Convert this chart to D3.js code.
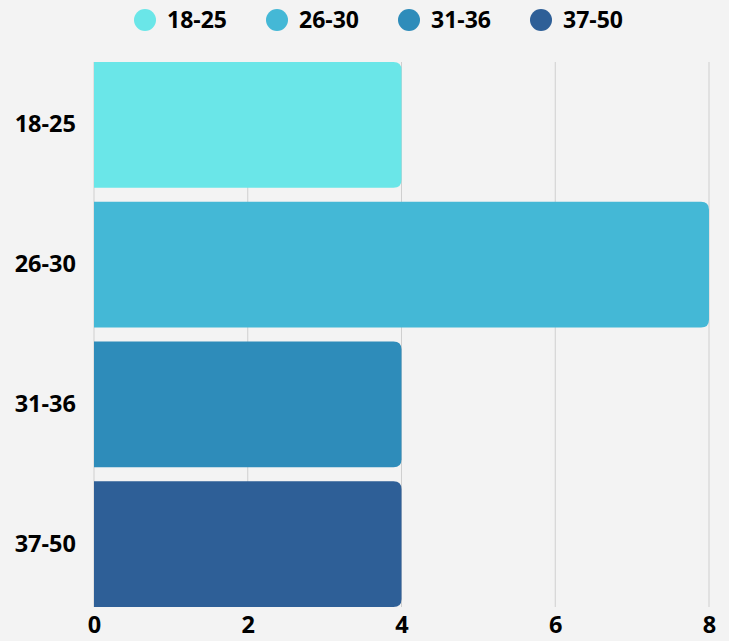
<!DOCTYPE html>
<html lang="en">
<head>
<meta charset="utf-8">
<title>Age groups</title>
<script src="https://cdn.jsdelivr.net/npm/d3@7"></script>
<style>
  body { margin: 0; background: #f3f3f3; font-family: "Open Sans", sans-serif; }
  svg text { font-weight: bold; fill: #000; }
</style>
</head>
<body>
<div id="chart"></div>
<script>
var categories = ["18-25", "26-30", "31-36", "37-50"];
var values = [4, 8, 4, 4];
var colors = ["#6ae6e8", "#44b8d6", "#2e8cba", "#2e5f97"];
var ticks = [0, 2, 4, 6, 8];

var w = 729, h = 641;
var margin = {top: 62, right: 20, bottom: 34, left: 94};

var svg = d3.select("#chart").append("svg")
  .attr("width", w).attr("height", h);

var x = d3.scaleLinear().domain([0, 8]).range([margin.left, 709]);
var y = d3.scaleBand().domain(categories)
  .range([margin.top, h - margin.bottom])
  .paddingInner(0.1).paddingOuter(0);

// gridlines
svg.append("g")
  .selectAll("line")
  .data(ticks)
  .enter().append("line")
  .attr("x1", function(d) { return x(d); })
  .attr("x2", function(d) { return x(d); })
  .attr("y1", margin.top)
  .attr("y2", h - margin.bottom)
  .attr("stroke", "#cfcfcf")
  .attr("stroke-width", 1);

// bars with rounded right end
function barPath(x0, x1, y0, hh, r) {
  return "M" + x0 + "," + y0 +
    "H" + (x1 - r) +
    "Q" + x1 + "," + y0 + " " + x1 + "," + (y0 + r) +
    "V" + (y0 + hh - r) +
    "Q" + x1 + "," + (y0 + hh) + " " + (x1 - r) + "," + (y0 + hh) +
    "H" + x0 + "Z";
}

svg.append("g")
  .selectAll("path")
  .data(categories)
  .enter().append("path")
  .attr("d", function(d, i) {
    return barPath(x(0), x(values[i]), y(d), y.bandwidth(), 8);
  })
  .attr("fill", function(d, i) { return colors[i]; });

// x axis
var xAxis = svg.append("g")
  .attr("transform", "translate(0," + (h - margin.bottom) + ")")
  .call(d3.axisBottom(x).tickValues(ticks).tickSize(0).tickPadding(9));
xAxis.select(".domain").remove();
xAxis.selectAll("text").style("font-size", "23.5px").style("font-family", "Open Sans");

// y axis
var yAxis = svg.append("g")
  .attr("transform", "translate(76,0)")
  .call(d3.axisLeft(y).tickSize(0).tickPadding(0));
yAxis.select(".domain").remove();
yAxis.selectAll("text").style("font-size", "23.5px").style("font-family", "Open Sans");

// legend
var legend = svg.append("g")
  .selectAll("g")
  .data(categories)
  .enter().append("g")
  .attr("transform", function(d, i) { return "translate(" + (145 + i * 132) + ",20)"; });

legend.append("circle")
  .attr("r", 11)
  .attr("fill", function(d, i) { return colors[i]; });

legend.append("text")
  .attr("x", 22)
  .attr("dy", "0.35em")
  .style("font-size", "23px")
  .text(function(d) { return d; });
</script>
</body>
</html>
